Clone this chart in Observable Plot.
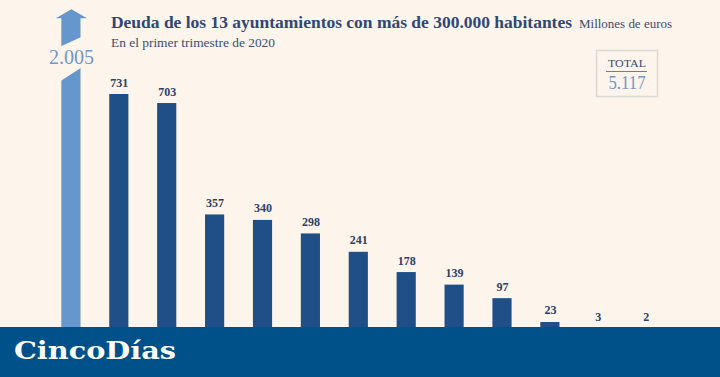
<!DOCTYPE html>
<html>
<head>
<meta charset="utf-8">
<script src="https://cdn.jsdelivr.net/npm/d3@7"></script>
<script src="https://cdn.jsdelivr.net/npm/@observablehq/plot@0.6"></script>
<style>
  html, body { margin: 0; padding: 0; background: #fdf4eb; }
  #chart { width: 720px; height: 377px; position: relative; overflow: hidden; }
</style>
</head>
<body>
<div id="chart"></div>
<script>
// ---- data ----
const cities = ["Madrid", "Zaragoza", "Valencia", "Málaga", "Sevilla", "Barcelona", "Murcia",
                "Las Palmas", "Córdoba", "Valladolid", "Alicante", "Bilbao", "Palma"];
const deuda = [2005, 731, 703, 357, 340, 298, 241, 178, 139, 97, 23, 3, 2];
const title = "Deuda de los 13 ayuntamientos con más de 300.000 habitantes";
const unitLabel = "Millones de euros";
const subtitle = "En el primer trimestre de 2020";
const totalLabel = "TOTAL";
const brand = "CincoDías";

const es = d3.formatLocale({decimal: ",", thousands: ".", grouping: [3], currency: ["", "€"]});
const fmt = es.format(",d");
const data = cities.map((c, i) => ({city: c, value: deuda[i], label: fmt(deuda[i])}));
const total = d3.sum(deuda);
const outlier = data.slice(0, 1);   // off-scale bar (Madrid)
const rest = data.slice(1);

// ---- scale layout (axis-level constants) ----
const yTop = 995;        // value at the arrow tip
const arrowBase = 970;   // where the arrow head starts
const breakAt = 846;     // where the broken bar shows its label

const bg = "#fdf4eb";
const navy = "#204e86";
const light = "#6596cc";
const ink = "#2b3f68";

const arrowHead = {
  draw(ctx) {
    ctx.moveTo(0, -8.2);
    ctx.lineTo(15.6, 0.6);
    ctx.lineTo(-15.6, 0.6);
    ctx.closePath();
  }
};
const gap = {
  draw(ctx) {
    ctx.moveTo(-12, -10.6);
    ctx.lineTo(12, -21.4);
    ctx.lineTo(12, 8.7);
    ctx.lineTo(-12, 24.3);
    ctx.closePath();
  }
};

const chart = Plot.plot({
  width: 720,
  height: 377,
  margin: 0,
  style: {background: "transparent", overflow: "visible"},
  x: {type: "band", domain: cities, range: [32.6, 684.0], padding: 0.6, round: false, axis: null},
  y: {domain: [0, yTop], range: [329.4, 9], axis: null},
  marks: [
    Plot.barY(rest, {x: "city", y: "value", fill: navy}),
    Plot.barY(outlier, {x: "city", y1: 0, y2: () => arrowBase, fill: light}),
    Plot.dot(outlier, {x: "city", y: () => arrowBase, symbol: arrowHead, r: 1, fill: light}),
    Plot.dot(outlier, {x: "city", y: () => breakAt, symbol: gap, r: 1, fill: bg}),
    Plot.text(outlier, {x: "city", y: () => breakAt, text: "label", fill: "#6d98cb",
      fontSize: 20, fontFamily: "Liberation Serif", lineAnchor: "middle"}),
    Plot.text(rest, {x: "city", y: "value", text: "label", fill: ink, fontSize: 12,
      fontWeight: "bold", fontFamily: "Liberation Serif", lineAnchor: "bottom", dy: -8})
  ]
});

document.getElementById("chart").appendChild(chart);

// ---- titles, total box and footer banner ----
const svg = d3.select(chart);
function addText(t, x, y, opts) {
  const el = svg.append("text").attr("x", x).attr("y", y).text(t)
    .attr("font-family", opts.family || "Liberation Serif")
    .attr("font-size", opts.size)
    .attr("font-weight", opts.weight || "normal")
    .attr("fill", opts.fill || ink)
    .attr("text-anchor", opts.anchor || "start");
  if (opts.len) el.attr("textLength", opts.len).attr("lengthAdjust", "spacingAndGlyphs");
  return el;
}
addText(title, 111, 28, {size: 16, weight: "bold", fill: "#2d4877", len: 461});
addText(unitLabel, 579, 27.7, {size: 12, fill: "#3b4d70", len: 93});
addText(subtitle, 111, 46.5, {size: 13, fill: "#3b4d70", len: 164});

svg.append("rect").attr("x", 596.5).attr("y", 50.5).attr("width", 61).attr("height", 46)
  .attr("fill", "none").attr("stroke", "#dcd8d5").attr("stroke-width", 1.5);
addText(totalLabel, 627, 66.5, {size: 10.5, fill: "#3b4d70", anchor: "middle", len: 38});
svg.append("line").attr("x1", 606).attr("x2", 647).attr("y1", 71.5).attr("y2", 71.5)
  .attr("stroke", "#5f82b3").attr("stroke-width", 1);
addText(fmt(total), 627, 89, {size: 18, fill: "#6f98cb", anchor: "middle", len: 37});

svg.append("rect").attr("x", 0).attr("y", 327).attr("width", 720).attr("height", 50)
  .attr("fill", "#00508a");
addText(brand, 14, 359, {size: 24, family: "DejaVu Serif", weight: "bold", fill: "#ffffff", len: 162});
</script>
</body>
</html>
